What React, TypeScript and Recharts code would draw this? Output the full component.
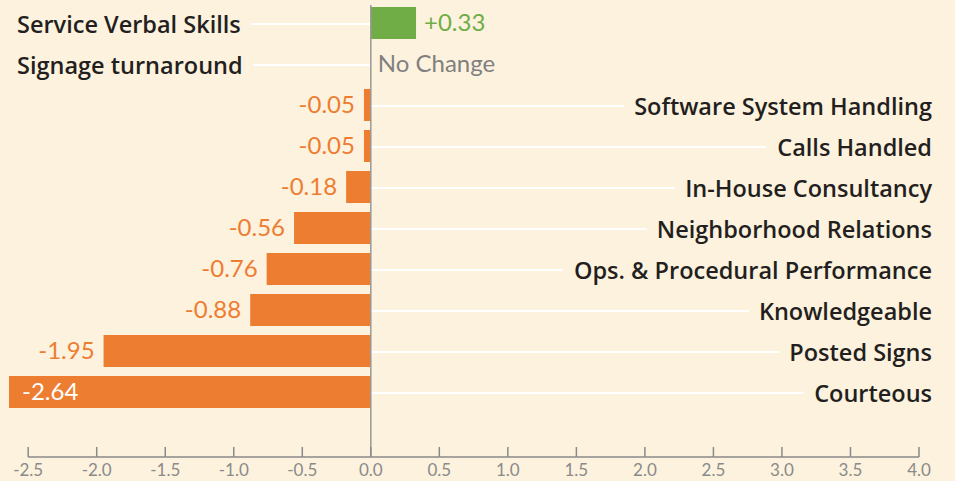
import { BarChart, Bar, XAxis, YAxis, ReferenceLine } from "recharts";

const categories = [
  "Service Verbal Skills",
  "Signage turnaround",
  "Software System Handling",
  "Calls Handled",
  "In-House Consultancy",
  "Neighborhood Relations",
  "Ops. & Procedural Performance",
  "Knowledgeable",
  "Posted Signs",
  "Courteous",
];
const changes = [0.33, 0, -0.05, -0.05, -0.18, -0.56, -0.76, -0.88, -1.95, -2.64];
const xTicks = [-2.5, -2.0, -1.5, -1.0, -0.5, 0.0, 0.5, 1.0, 1.5, 2.0, 2.5, 3.0, 3.5, 4.0];

const BG = "#fdf2de";
const ORANGE = "#ed7d31";
const GREEN = "#70ad47";
const GREY = "#8a8a8a";
const DARK = "#231f20";
const W = 955;
const H = 481;
const MARGIN = { top: 5, right: 36, bottom: 0, left: 9 };
const X_MAX = 4;

const data = categories.map((name, i) => ({ name, change: changes[i] }));

// pixels per unit on the value axis (domain runs from the lowest value to X_MAX)
const pxPerUnit = (W - MARGIN.left - MARGIN.right) / (X_MAX - Math.min(...changes));

function RowShape(props: any) {
  const { x, y, width, height, payload } = props;
  const value: number = payload.change;
  // zero position of the bar, whichever way recharts hands back the rect
  const zeroX = value < 0 && width > 0 ? x + width : x;
  const left = Math.min(x, x + width);
  const w = Math.abs(width);
  const right = left + w;
  const cy = y + height / 2;
  const lineY = cy + 1;

  const catLeft = value >= 0;
  const catX = catLeft ? 17 : 932;

  let valueLabel = null;
  if (value === 0) {
    valueLabel = (
      <text x={zeroX + 7} y={cy + 8} fill="#808080" fontSize={24} fontFamily="Lato">
        No Change
      </text>
    );
  } else if (value > 0) {
    valueLabel = (
      <text x={right + 8} y={cy + 8} fill={GREEN} fontSize={24} fontFamily="Lato">
        {"+" + value.toFixed(2)}
      </text>
    );
  } else if (left < 80) {
    valueLabel = (
      <text x={left + 13} y={cy + 8} fill="#ffffff" fontSize={24} fontFamily="Lato">
        {value.toFixed(2)}
      </text>
    );
  } else {
    valueLabel = (
      <text x={left - 9} y={cy + 8} fill={ORANGE} fontSize={24} fontFamily="Lato" textAnchor="end">
        {value.toFixed(2)}
      </text>
    );
  }

  return (
    <g>
      <line
        x1={catLeft ? catX + 100 : zeroX}
        x2={catLeft ? zeroX : catX - 100}
        y1={lineY}
        y2={lineY}
        stroke="#ffffff"
        strokeWidth={2}
      />
      {w > 0 && <rect x={left} y={y} width={w} height={height} fill={value > 0 ? GREEN : ORANGE} />}
      <text
        x={catX}
        y={cy + 9.5}
        textAnchor={catLeft ? "start" : "end"}
        fill={DARK}
        stroke={BG}
        strokeWidth={24}
        strokeLinejoin="round"
        paintOrder="stroke"
        fontSize={23.5}
        fontWeight={600}
        fontFamily="'Open Sans'"
      >
        {payload.name}
      </text>
      {valueLabel}
    </g>
  );
}

function AxisTick(props: any) {
  const { x, y, payload, index } = props;
  const next = xTicks[index + 1];
  return (
    <g>
      {next !== undefined && (
        <line
          x1={x}
          x2={x + (next - payload.value) * pxPerUnit}
          y1={y}
          y2={y}
          stroke={GREY}
          strokeWidth={1.5}
        />
      )}
      <line x1={x} x2={x} y1={y - 10} y2={y} stroke={GREY} strokeWidth={1.5} />
      <text x={x} y={y + 19} textAnchor="middle" fill={GREY} fontSize={17} fontFamily="Lato">
        {payload.value.toFixed(1)}
      </text>
    </g>
  );
}

export default function App() {
  return (
    <div style={{ position: "absolute", left: 0, top: 0, width: W, height: H, background: BG }}>
      <BarChart width={W} height={H} data={data} layout="vertical" margin={MARGIN} barSize={32}>
        <XAxis
          type="number"
          domain={["dataMin", X_MAX]}
          ticks={xTicks}
          height={24}
          tickSize={0}
          tickMargin={0}
          tickLine={false}
          axisLine={false}
          tick={<AxisTick />}
        />
        <YAxis type="category" dataKey="name" hide padding={{ top: -3, bottom: 45 }} />
        <Bar dataKey="change" isAnimationActive={false} shape={<RowShape />} />
        <ReferenceLine x={0} stroke="#999999" strokeWidth={1.5} />
      </BarChart>
    </div>
  );
}
